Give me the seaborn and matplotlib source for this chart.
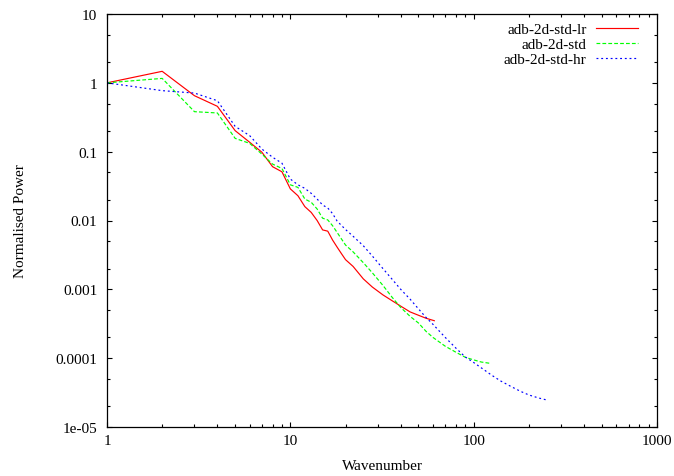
import numpy as np
import pandas as pd
import matplotlib
matplotlib.use("Agg")
import matplotlib.pyplot as plt
import seaborn as sns
from matplotlib.ticker import LogLocator, FixedLocator, FixedFormatter, NullFormatter

# ---- data ----
k_lr = [1, 2, 3, 4, 5, 6, 7, 8, 9, 10, 11, 12, 13, 14, 15, 16, 17, 18, 19, 20,
        22, 25, 28, 32, 36, 40, 45, 50, 55, 61]
p_lr = [1.0, 1.47, 0.65, 0.456, 0.202, 0.137, 0.098, 0.0605, 0.051, 0.0288,
        0.0229, 0.0159, 0.0131, 0.0100, 0.0073, 0.0070, 0.0052, 0.0041, 0.0033,
        0.0027, 0.00215, 0.00142, 0.00108, 0.00083, 0.00068, 0.00057, 0.00047,
        0.00042, 0.00038, 0.00035]

k_std = [1, 2, 3, 4, 5, 6, 7, 8, 9, 10, 11, 12, 13, 14, 15, 16, 17, 18, 20,
         22, 25, 28, 32, 36, 40, 45, 50, 55, 60, 70, 80, 90, 100, 110, 123]
p_std = [1.0, 1.16, 0.381, 0.365, 0.156, 0.132, 0.092, 0.066, 0.057, 0.033,
         0.0303, 0.0205, 0.0184, 0.0147, 0.0108, 0.0102, 0.0084, 0.0067, 0.0044,
         0.0035, 0.00244, 0.00174, 0.00114, 0.00076, 0.000545, 0.000405,
         0.000324, 0.000245, 0.0002, 0.000149, 0.000122, 0.000103, 0.0000944,
         0.0000879, 0.0000841]

k_hr = [1, 2, 3, 4, 5, 6, 7, 8, 9, 10, 11, 12, 13, 14, 15, 16, 17, 18, 20,
        22, 25, 28, 32, 36, 40, 45, 50, 55, 60, 70, 80, 90, 100, 110, 125,
        140, 160, 180, 200, 225, 247]
p_hr = [1.0, 0.77, 0.71, 0.55, 0.233, 0.171, 0.109, 0.083, 0.068, 0.040,
        0.033, 0.0293, 0.0248, 0.0205, 0.0168, 0.0152, 0.0126, 0.0098, 0.0074,
        0.0059, 0.0043, 0.00305, 0.0020, 0.00139, 0.0010, 0.00072, 0.00052,
        0.00039, 0.00031, 0.0002, 0.00014, 0.000104, 0.0000865, 0.0000724,
        0.0000569, 0.0000468, 0.0000387, 0.000033, 0.0000292, 0.0000265,
        0.0000249]

series_names = ["adb-2d-std-lr", "adb-2d-std", "adb-2d-std-hr"]
x_ticks = [1, 10, 100, 1000]
x_labels = ["1", "10", "100", "1000"]
y_ticks = [1e-5, 1e-4, 1e-3, 1e-2, 1e-1, 1, 10]
y_labels = ["1e-05", "0.0001", "0.001", "0.01", "0.1", "1", "10"]

plt.rcParams['font.family'] = ['Liberation Serif', 'DejaVu Serif']
plt.rcParams['font.size'] = 11

fig = plt.figure(figsize=(6.74, 4.77), dpi=100)
ax = fig.add_axes([107/674, 1 - 428/477, 550/674, 413/477])

lw = 0.85
styles = [
    dict(color="#ff0000", linestyle="-"),
    dict(color="#00ff00", linestyle=(0, (3.2, 1.8))),
    dict(color="#0000ff", linestyle=(0, (1.6, 2.4))),
]
data = [(k_lr, p_lr), (k_std, p_std), (k_hr, p_hr)]
for (kk, pp), name, st in zip(data, series_names, styles):
    df = pd.DataFrame({"k": kk, "p": pp})
    sns.lineplot(data=df, x="k", y="p", ax=ax, label=name, estimator=None,
                 sort=False, linewidth=lw, **st)

ax.set_xscale("log")
ax.set_yscale("log")
ax.set_xlim(1, 1000)
ax.set_ylim(1e-5, 10)

ax.xaxis.set_major_locator(FixedLocator(x_ticks))
ax.xaxis.set_major_formatter(FixedFormatter(x_labels))
ax.xaxis.set_minor_locator(LogLocator(base=10, subs=np.arange(2, 10)))
ax.xaxis.set_minor_formatter(NullFormatter())
ax.yaxis.set_major_locator(FixedLocator(y_ticks))
ax.yaxis.set_major_formatter(FixedFormatter(y_labels))
ax.yaxis.set_minor_locator(LogLocator(base=10, subs=[2.0, 5.0]))
ax.yaxis.set_minor_formatter(NullFormatter())

ax.tick_params(which="both", direction="in", top=True, right=True, width=0.8,
               colors="black")
ax.tick_params(which="major", length=3.6)
ax.tick_params(which="minor", length=1.9)
ax.tick_params(axis="y", which="major", pad=7)
ax.tick_params(axis="x", which="major", pad=5)
for sp in ax.spines.values():
    sp.set_linewidth(0.9)
    sp.set_color("black")

ax.set_xlabel("Wavenumber")
ax.set_ylabel("Normalised Power")
ax.xaxis.set_label_coords(0.5, -0.078)
ax.yaxis.set_label_coords(-0.146, 0.5)

ax.legend(loc="upper right", bbox_to_anchor=(0.9655, 0.98), frameon=False,
          markerfirst=False, handlelength=2.75, handletextpad=0.62,
          labelspacing=0.1, borderpad=0, borderaxespad=0)

fig.savefig("out.png", dpi=100)
